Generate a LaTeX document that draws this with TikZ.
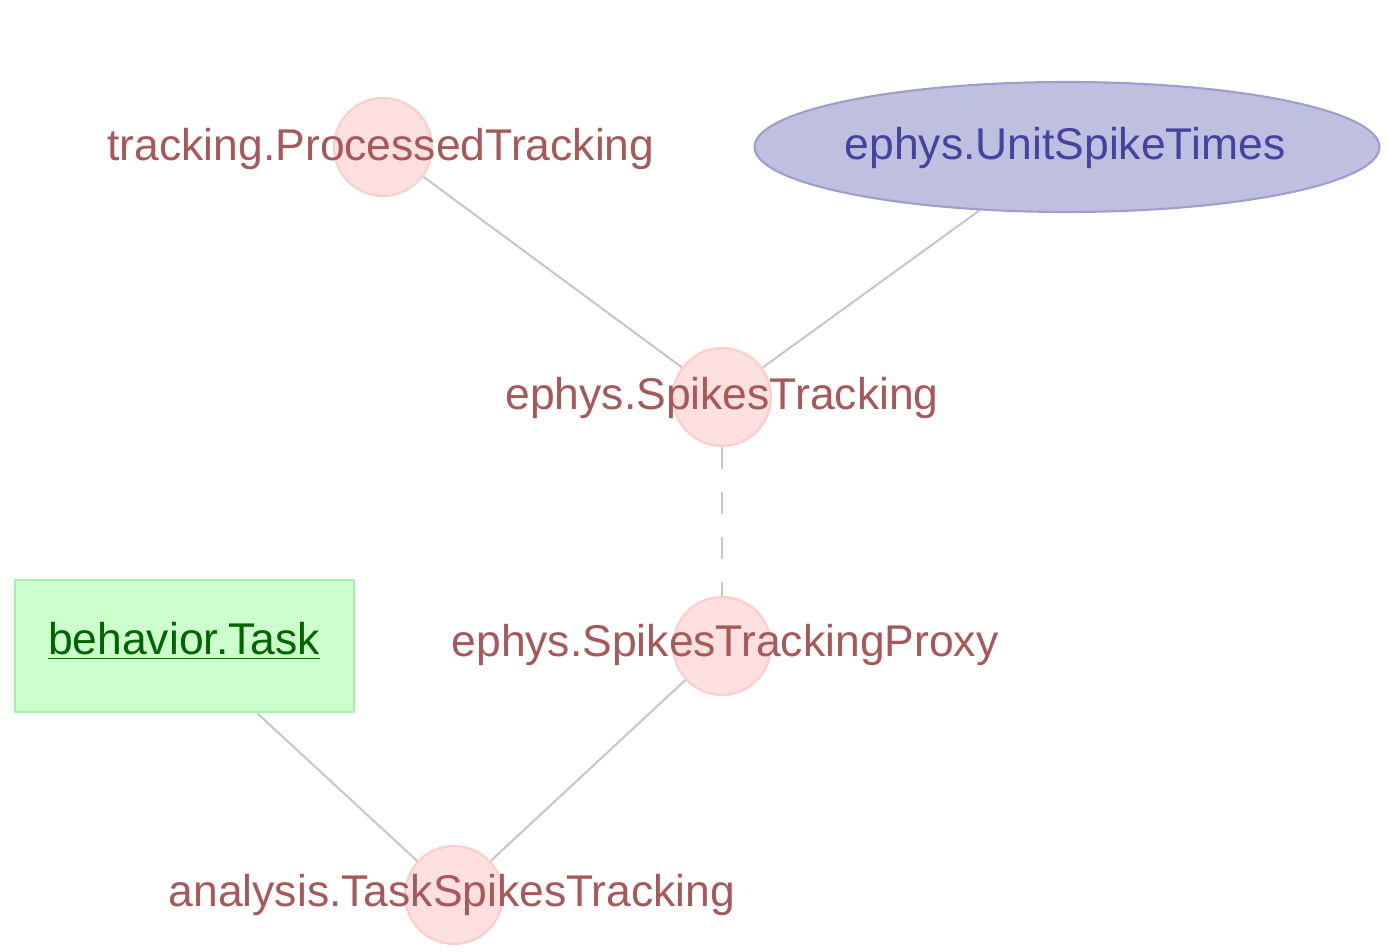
\documentclass[tikz,border=0pt]{standalone}
\usepackage{fontspec}
\setmainfont{Liberation Sans}
\usetikzlibrary{backgrounds, shapes.geometric, positioning}
\definecolor{partfill}{RGB}{255,224,224}
\definecolor{partline}{RGB}{255,204,204}
\definecolor{parttext}{RGB}{168,88,88}
\definecolor{unitfill}{RGB}{191,191,223}
\definecolor{unitline}{RGB}{158,158,206}
\definecolor{unittext}{RGB}{68,68,160}
\definecolor{taskfill}{RGB}{204,255,204}
\definecolor{taskline}{RGB}{170,240,170}
\definecolor{tasktext}{RGB}{0,100,0}
\definecolor{edgeline}{RGB}{200,200,200}
\tikzset{%
  % Specifications for style of nodes:
            part/.style = {circle, draw=partline, fill=partfill,
                            line width=1.2pt, minimum size=1.96cm, inner sep=0pt},
            unit/.style = {ellipse, draw=unitline, fill=unitfill,
                            line width=1.2pt, minimum width=12.5cm,
                            minimum height=2.6cm, inner sep=0pt},
            task/.style = {rectangle, draw=taskline, fill=taskfill,
                            line width=1.2pt, minimum width=6.78cm,
                            minimum height=2.64cm, inner sep=0pt},
            tablename/.style = {anchor=base, inner sep=0pt,
                            font=\fontsize{25.3}{30}\selectfont},
            edge/.style = {draw=edgeline, line width=1.2pt}
}
\begin{document}
\begin{tikzpicture}[x=0.02cm, y=-0.02cm]
                        \useasboundingbox (0,0) rectangle (1387,952);
                        \node[part] (proc) at (383,147) {};
                        \node[unit] (unit) at (1067,147) {};
                        \node[part] (spk) at (722,397) {};
                        \node[part] (proxy) at (722,646) {};
                        \node[task] (task) at (184.5,646) {};
                        \node[part] (tspk) at (454,895) {};
                        \node[tablename, text=parttext] (proc-t) at (381,161) {tracking.ProcessedTracking};
                        \node[tablename, text=unittext] (unit-t) at (1065,160) {ephys.UnitSpikeTimes};
                        \node[tablename, text=parttext] (spk-t) at (722,410) {ephys.SpikesTracking};
                        \node[tablename, text=parttext] (proxy-t) at (725,657) {ephys.SpikesTrackingProxy};
                        \node[tablename, text=tasktext] (task-t) at (184,655) {\underline{behavior.Task}};
                        \node[tablename, text=parttext] (tspk-t) at (452,906) {analysis.TaskSpikesTracking};
                        \begin{scope}[on background layer]
                        \draw[edge] (proc)--(spk);
                        \draw[edge] (unit)--(spk);
                        \draw[edge, dash pattern=on 0.44cm off 0.46cm] (spk)--(proxy);
                        \draw[edge] (proxy)--(tspk);
                        \draw[edge] (task)--(tspk);
                        \end{scope}
                    \end{tikzpicture}
\end{document}
